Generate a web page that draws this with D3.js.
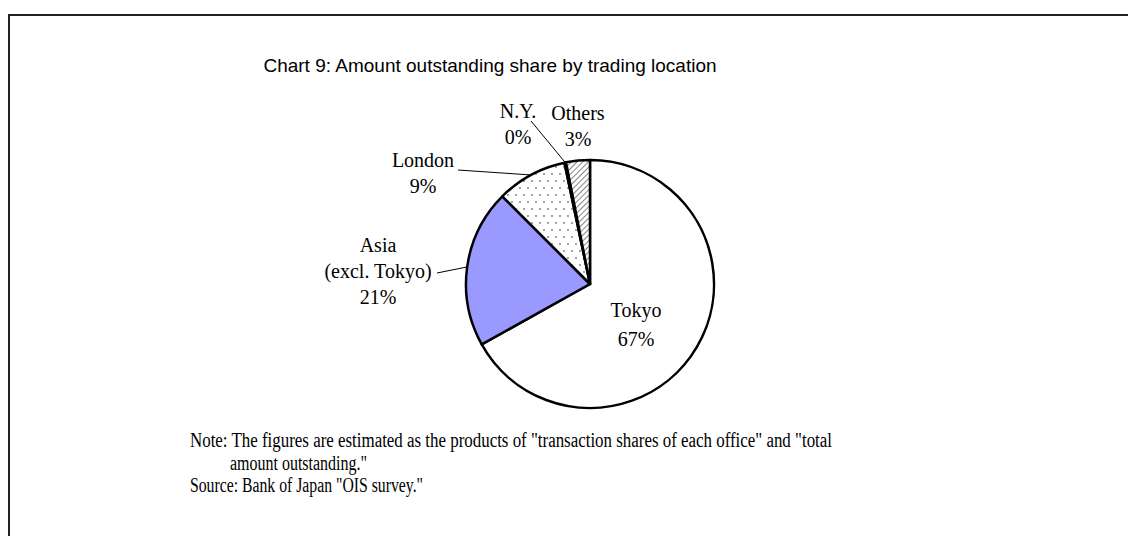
<!DOCTYPE html>
<html>
<head>
<meta charset="utf-8">
<script src="https://cdn.jsdelivr.net/npm/d3@7"></script>
<style>
  body { margin: 0; background: #fff; }
  svg { display: block; }
</style>
</head>
<body>
<div id="chart"></div>
<script>
// data (clockwise from 12 o'clock)
var locations = ["Tokyo", "Asia (excl. Tokyo)", "London", "N.Y.", "Others"];
var shares = [66.9, 20.6, 9.2, 0.2, 3.1];
var labelLines = [["Tokyo"], ["Asia", "(excl. Tokyo)"], ["London"], ["N.Y."], ["Others"]];

var titleText = "Chart 9: Amount outstanding share by trading location";
var noteLines = [
  "Note: The figures are estimated as the products of \"transaction shares of each office\" and \"total",
  "amount outstanding.\"",
  "Source: Bank of Japan \"OIS survey.\""
];

var width = 1128, height = 536;
var cx = 590, cy = 284, radius = 124;
var serif = "'Liberation Serif', 'Times New Roman', serif";

// label layout: anchor of text block, and where the leader starts (null = no leader)
var labelLayout = {
  "Tokyo": { x: 636, y: 317, leader: null },
  "Asia (excl. Tokyo)": { x: 378, y: 252, leader: [437, 273] },
  "London": { x: 423, y: 167, leader: [458, 170] },
  "N.Y.": { x: 518, y: 118, leader: [531, 121] },
  "Others": { x: 578, y: 120, leader: null }
};
var lineGap = 26;

var svg = d3.select("#chart").append("svg")
  .attr("width", width)
  .attr("height", height);

var defs = svg.append("defs");

var dots = defs.append("pattern")
  .attr("id", "dots")
  .attr("patternUnits", "userSpaceOnUse")
  .attr("width", 8).attr("height", 14);
dots.append("rect").attr("width", 8).attr("height", 14).attr("fill", "#fff");
dots.append("circle").attr("cx", 2).attr("cy", 2).attr("r", 0.9).attr("fill", "#777");
dots.append("circle").attr("cx", 6).attr("cy", 9).attr("r", 0.9).attr("fill", "#777");

var hatch = defs.append("pattern")
  .attr("id", "hatch")
  .attr("patternUnits", "userSpaceOnUse")
  .attr("width", 4).attr("height", 4)
  .attr("patternTransform", "rotate(45)");
hatch.append("rect").attr("width", 4).attr("height", 4).attr("fill", "#fff");
hatch.append("line")
  .attr("x1", 0).attr("y1", 0).attr("x2", 0).attr("y2", 4)
  .attr("stroke", "#666").attr("stroke-width", 1.6);

var fills = {
  "Tokyo": "#fff",
  "Asia (excl. Tokyo)": "#9999ff",
  "London": "url(#dots)",
  "N.Y.": "#000",
  "Others": "url(#hatch)"
};

// frame
svg.append("rect")
  .attr("x", 9).attr("y", 15)
  .attr("width", 1300).attr("height", 700)
  .attr("fill", "none")
  .attr("stroke", "#222")
  .attr("stroke-width", 2);

svg.append("text")
  .attr("x", 490).attr("y", 72)
  .attr("text-anchor", "middle")
  .attr("font-family", "'Liberation Sans', Arial, sans-serif")
  .attr("font-size", 19)
  .text(titleText);

var pie = d3.pie().sort(null).value(function (d) { return d; });
var arcs = pie(shares);
var arc = d3.arc().innerRadius(0).outerRadius(radius);

var g = svg.append("g").attr("transform", "translate(" + cx + "," + cy + ")");

g.selectAll("path.slice")
  .data(arcs)
  .enter().append("path")
  .attr("class", "slice")
  .attr("d", arc)
  .attr("fill", function (d, i) { return fills[locations[i]]; })
  .attr("stroke", "#000")
  .attr("stroke-width", 2.5)
  .attr("stroke-linejoin", "round");

// leaders
arcs.forEach(function (d, i) {
  var lay = labelLayout[locations[i]];
  if (!lay.leader) return;
  var mid = (d.startAngle + d.endAngle) / 2;
  svg.append("line")
    .attr("x1", lay.leader[0]).attr("y1", lay.leader[1])
    .attr("x2", cx + radius * Math.sin(mid))
    .attr("y2", cy - radius * Math.cos(mid))
    .attr("stroke", "#000")
    .attr("stroke-width", 1);
});

// labels
arcs.forEach(function (d, i) {
  var lay = labelLayout[locations[i]];
  var lines = labelLines[i].concat([Math.round(shares[i]) + "%"]);
  var t = svg.append("text")
    .attr("text-anchor", "middle")
    .attr("font-family", serif)
    .attr("font-size", 20);
  lines.forEach(function (s, k) {
    t.append("tspan")
      .attr("x", lay.x)
      .attr("y", lay.y + k * (locations[i] === "Tokyo" ? 29 : lineGap))
      .text(s);
  });
});

// note / source, horizontally squeezed like the original
var noteX = [190, 230, 190];
var noteY = [447, 469.5, 492];
var noteW = [642, 137, 233];
noteLines.forEach(function (s, i) {
  svg.append("text")
    .attr("x", noteX[i]).attr("y", noteY[i])
    .attr("font-family", serif)
    .attr("font-size", 20)
    .attr("textLength", noteW[i])
    .attr("lengthAdjust", "spacingAndGlyphs")
    .text(s);
});
</script>
</body>
</html>
